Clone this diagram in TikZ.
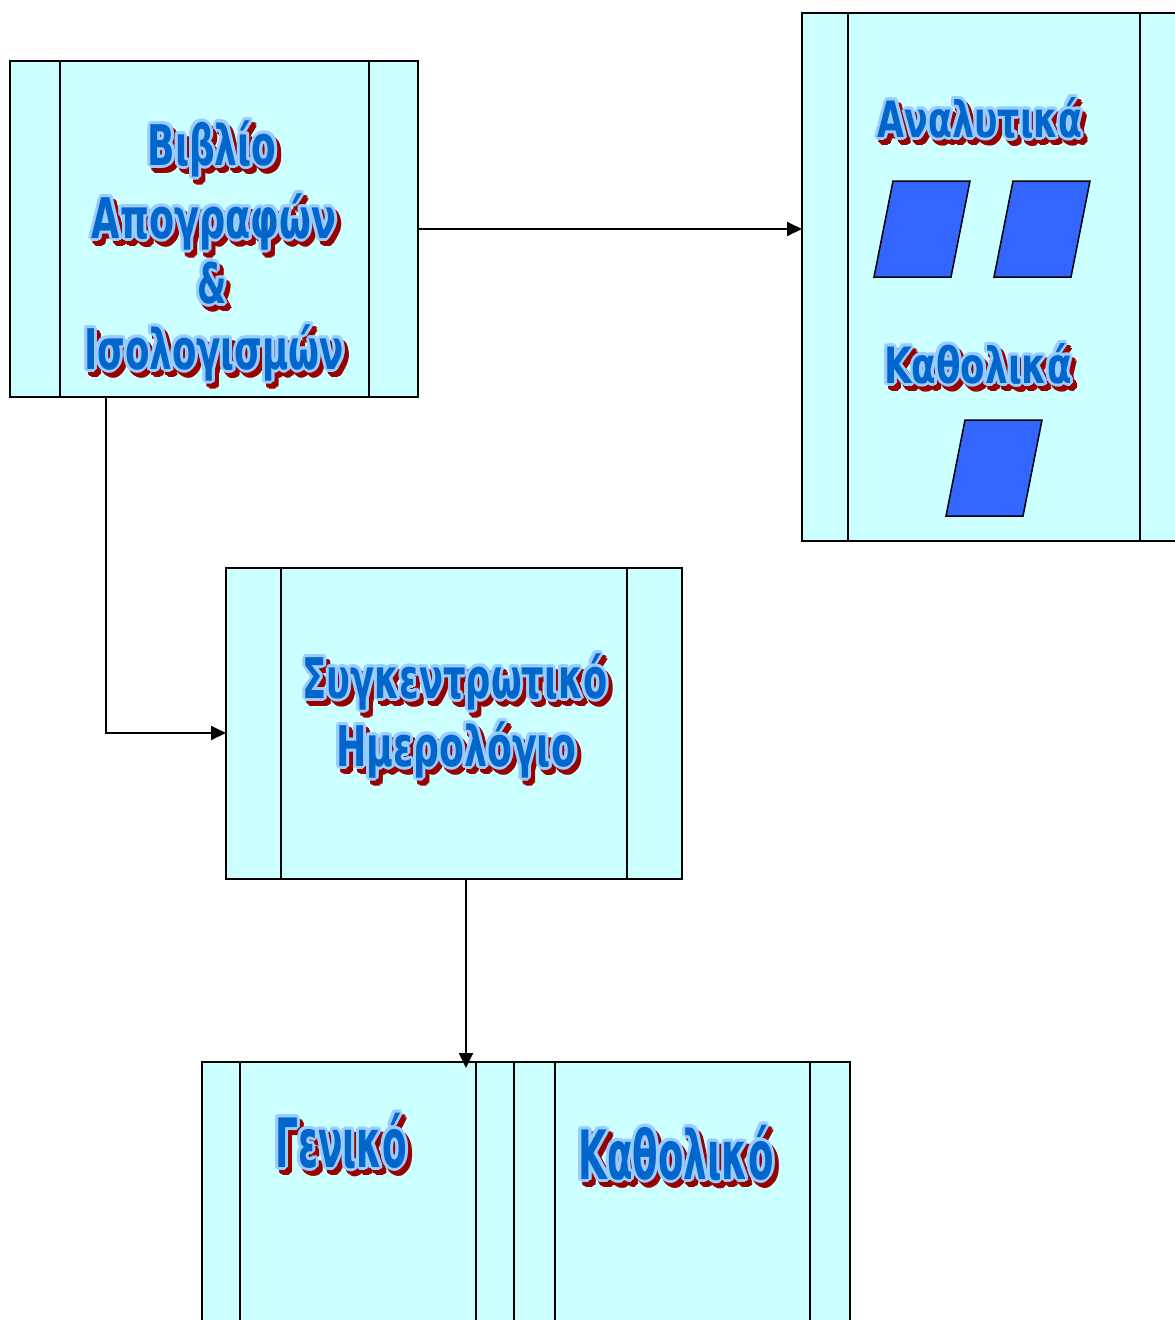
\documentclass[tikz,border=0pt]{standalone}
\usepackage{fontspec}
\usepackage{graphicx}
\usetikzlibrary{calc,arrows.meta}
\newfontfamily\condfont[FakeStretch=0.6]{DejaVu Sans Bold}
\definecolor{boxfill}{HTML}{CCFFFF}
\definecolor{paperblue}{HTML}{3366FF}
\definecolor{shadowred}{HTML}{990000}
\definecolor{rimblue}{HTML}{99CCFF}
\definecolor{inkblue}{HTML}{0066CC}
\newcommand\gtfont[1]{\condfont\fontsize{#1}{#1}\selectfont}
% outlined, shadowed title text:
% #1 name, #2 position (baseline centre), #3 size, #4 horizontal scale, #5 text
\newcommand\glowtext[5]{%
  \foreach \a in {0,30,...,330}{%
    \node[gt,text=shadowred,font=\gtfont{#3},xshift={4pt+3pt*cos(\a)},yshift={-5pt+3pt*sin(\a)}] (#1s\a) at #2 {\scalebox{#4}[1]{#5}};
  }%
  \foreach \a in {0,30,...,330}{%
    \node[gt,text=rimblue,font=\gtfont{#3},xshift={3pt*cos(\a)},yshift={3pt*sin(\a)}] (#1r\a) at #2 {\scalebox{#4}[1]{#5}};
  }%
  \node[gt,text=inkblue,font=\gtfont{#3}] (#1) at #2 {\scalebox{#4}[1]{#5}};
}
\tikzset{
  gt/.style={anchor=base,inner sep=0pt,outer sep=0pt},
  procbox/.style={draw=black,line width=1.5pt,fill=boxfill,anchor=north west,
    inner sep=0pt,outer sep=0pt},
  divider/.style={draw=black,line width=1.5pt},
  arr/.style={draw=black,line width=1.8pt,-{Triangle[length=15pt,width=14pt]}},
  paper/.style={draw=black,line width=1.5pt,fill=paperblue,line join=miter},
}
\begin{document}
\begin{tikzpicture}[x=1pt,y=-1pt]
\fill[white] (0,0) rectangle (1175,1320);
\useasboundingbox (0,0) rectangle (1175,1320);

% process boxes with inner side bars
\node[procbox,minimum width=408pt,minimum height=336pt] (b1) at (10,61) {};
\draw[divider] ($(b1.north west)+(50,0)$) -- ($(b1.south west)+(50,0)$);
\draw[divider] ($(b1.north east)+(-49,0)$) -- ($(b1.south east)+(-49,0)$);

\node[procbox,minimum width=384pt,minimum height=528pt] (b2) at (802,13) {};
\draw[divider] ($(b2.north west)+(46,0)$) -- ($(b2.south west)+(46,0)$);
\draw[divider] ($(b2.north east)+(-46,0)$) -- ($(b2.south east)+(-46,0)$);

\node[procbox,minimum width=456pt,minimum height=311pt] (b3) at (226,568) {};
\draw[divider] ($(b3.north west)+(55,0)$) -- ($(b3.south west)+(55,0)$);
\draw[divider] ($(b3.north east)+(-55,0)$) -- ($(b3.south east)+(-55,0)$);

\node[procbox,minimum width=312pt,minimum height=290pt] (b4) at (202,1062) {};
\draw[divider] ($(b4.north west)+(38,0)$) -- ($(b4.south west)+(38,0)$);
\draw[divider] ($(b4.north east)+(-38,0)$) -- ($(b4.south east)+(-38,0)$);

\node[procbox,minimum width=336pt,minimum height=290pt] (b5) at (514,1062) {};
\draw[divider] ($(b5.north west)+(41,0)$) -- ($(b5.south west)+(41,0)$);
\draw[divider] ($(b5.north east)+(-40,0)$) -- ($(b5.south east)+(-40,0)$);

% document sheets
\draw[paper] (893,181) -- (970,181) -- (951,277) -- (874,277) -- cycle;
\draw[paper] (1013,181) -- (1090,181) -- (1071,277) -- (994,277) -- cycle;
\draw[paper] (965,420) -- (1042,420) -- (1023,516) -- (946,516) -- cycle;

% titles
\glowtext{t1a}{(212,165)}{56}{1.07}{Βιβλίο}
\glowtext{t1b}{(214,238)}{56}{1.09}{Απογραφών}
\glowtext{t1c}{(212,303)}{56}{1.0}{\&}
\glowtext{t1d}{(214,369)}{56}{1.06}{Ισολογισμών}
\glowtext{t2a}{(980,137)}{50}{1.16}{Αναλυτικά}
\glowtext{t2b}{(978,383)}{50}{1.19}{Καθολικά}
\glowtext{t3a}{(455,698)}{56}{1.05}{Συγκεντρωτικό}
\glowtext{t3b}{(456,766)}{56}{1.08}{Ημερολόγιο}
\glowtext{t4}{(341,1167)}{68}{0.88}{Γενικό}
\glowtext{t5}{(676,1179)}{68}{0.91}{Καθολικό}

% connectors
\coordinate (b1out) at (106,397);
\coordinate (b3out) at (466,879);
\coordinate (b4in) at (466,1068);
\draw[arr] (b1.east) -- (b1.east -| b2.west);
\draw[arr] (b1out) |- ([yshift=-9.5pt]b3.west);
\draw[arr] (b3out) -- (b4in);
\end{tikzpicture}
\end{document}
